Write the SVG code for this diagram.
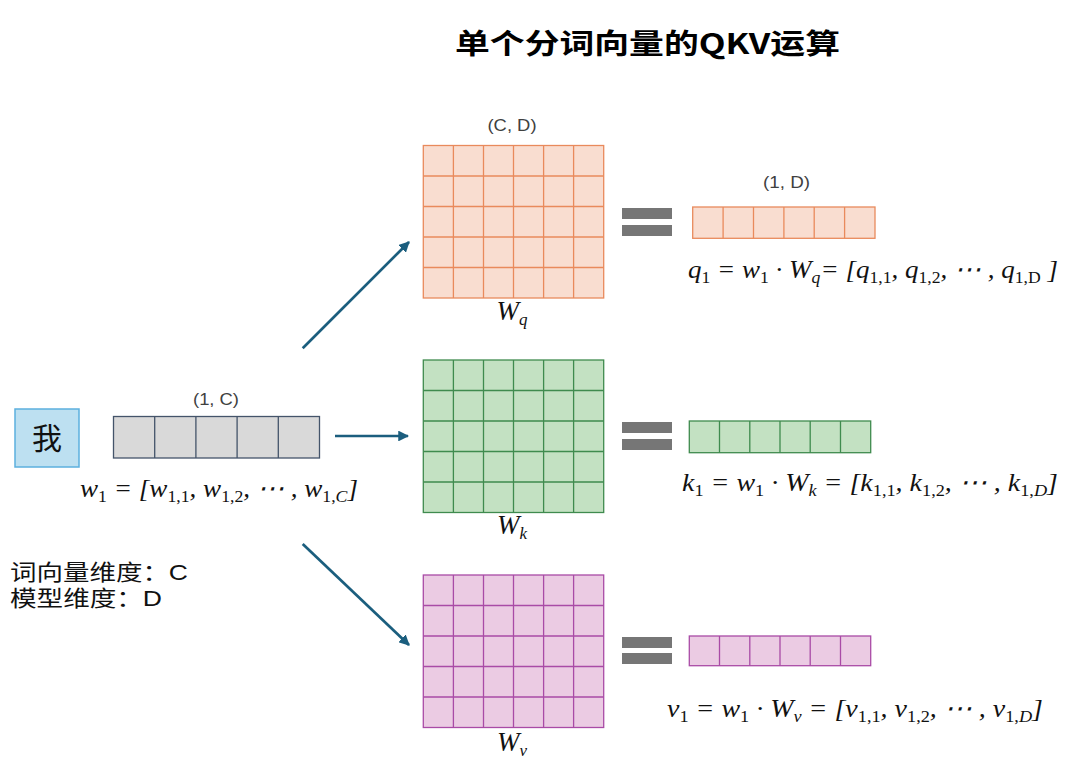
<svg xmlns="http://www.w3.org/2000/svg" width="1080" height="776" viewBox="0 0 1080 776">
<defs>
<style>
.title{font-family:"Noto Sans CJK SC","Noto Sans",sans-serif;font-weight:bold;font-size:28px;fill:#000}
.cjk{font-family:"Liberation Sans","Noto Sans CJK SC",sans-serif;font-size:22px;fill:#111}
.dim{font-family:"Liberation Sans","Noto Sans",sans-serif;font-size:16px;fill:#404040;text-anchor:middle}
.eq{font-family:"Liberation Serif","DejaVu Serif",serif;font-style:italic;font-size:26px;fill:#111}
.sub{font-size:17px;font-style:normal}
.subi{font-size:17px;font-style:italic}
.wl{font-family:"Liberation Serif","DejaVu Serif",serif;font-style:italic;font-size:27px;fill:#111;text-anchor:middle}
.q rect,.q path{fill:#F9DDD0;stroke:#E98A5C;stroke-width:1.3}
.k rect,.k path{fill:#C3E1C2;stroke:#3F8B4E;stroke-width:1.3}
.v rect,.v path{fill:#EBCBE3;stroke:#A94BA6;stroke-width:1.3}
.g rect,.g path{fill:#D9D9D9;stroke:#44546A;stroke-width:1.3}
.q path,.k path,.v path,.g path{fill:none}
.eqbar{fill:#767676}
.conn line{stroke:#1B5E7E;stroke-width:2.7;fill:none}
</style>
<marker id="ah" viewBox="0 0 10 10" refX="9" refY="5" markerWidth="4" markerHeight="4" orient="auto" markerUnits="strokeWidth">
<path d="M0,0 L10,5 L0,10 z" fill="#1B5E7E"/>
</marker>
</defs>
<rect width="1080" height="776" fill="#fff"/>

<text class="title" x="455" y="54" textLength="385" lengthAdjust="spacingAndGlyphs">单个分词向量的QKV运算</text>

<g id="word">
<rect x="15" y="409" width="64" height="58" fill="#BDE0F1" stroke="#5CB0DE" stroke-width="1.5"/>
<text x="47" y="449" font-family="Noto Sans CJK SC,sans-serif" font-size="30" text-anchor="middle" fill="#111">我</text>
</g>

<g id="input-vector" class="g">
<text class="dim" x="216" y="405" textLength="46" lengthAdjust="spacingAndGlyphs">(1, C)</text>
<rect x="113.5" y="416.5" width="206" height="41.5"/>
<path d="M154.7,416.5V458M195.9,416.5V458M237.1,416.5V458M278.3,416.5V458"/>
<text class="eq" x="80" y="497" textLength="278" lengthAdjust="spacingAndGlyphs">w<tspan class="sub" dy="5">1</tspan><tspan dy="-5"> = [w</tspan><tspan class="sub" dy="5">1,1</tspan><tspan dy="-5">, w</tspan><tspan class="sub" dy="5">1,2</tspan><tspan dy="-5">, ⋯ , w</tspan><tspan class="sub" dy="5">1,</tspan><tspan class="subi">C</tspan><tspan dy="-5">]</tspan></text>
</g>

<g id="legend">
<text class="cjk" x="10" y="580" textLength="178" lengthAdjust="spacingAndGlyphs">词向量维度：C</text>
<text class="cjk" x="10" y="606" textLength="152" lengthAdjust="spacingAndGlyphs">模型维度：D</text>
</g>

<g id="Wq" class="q">
<text class="dim" x="512" y="131" textLength="49" lengthAdjust="spacingAndGlyphs">(C, D)</text>
<rect x="423.3" y="145.5" width="180.4" height="152.5"/>
<path d="M453.4,145.5V298M483.5,145.5V298M513.5,145.5V298M543.6,145.5V298M573.6,145.5V298M423.3,176H603.7M423.3,206.5H603.7M423.3,237H603.7M423.3,267.5H603.7"/>
<text class="wl" x="512" y="320">W<tspan class="subi" dy="5">q</tspan></text>
</g>

<g id="Wk" class="k">
<rect x="423.3" y="360" width="180.4" height="152.5"/>
<path d="M453.4,360V512.5M483.5,360V512.5M513.5,360V512.5M543.6,360V512.5M573.6,360V512.5M423.3,390.5H603.7M423.3,421H603.7M423.3,451.5H603.7M423.3,482H603.7"/>
<text class="wl" x="512" y="534">W<tspan class="subi" dy="5">k</tspan></text>
</g>

<g id="Wv" class="v">
<rect x="423.3" y="575" width="180.4" height="152.5"/>
<path d="M453.4,575V727.5M483.5,575V727.5M513.5,575V727.5M543.6,575V727.5M573.6,575V727.5M423.3,605.5H603.7M423.3,636H603.7M423.3,666.5H603.7M423.3,697H603.7"/>
<text class="wl" x="512" y="751">W<tspan class="subi" dy="5">v</tspan></text>
</g>

<g id="eq-q">
<rect class="eqbar" x="622" y="208" width="50" height="11"/>
<rect class="eqbar" x="622" y="225" width="50" height="11"/>
</g>
<g id="eq-k">
<rect class="eqbar" x="622" y="422" width="50" height="11"/>
<rect class="eqbar" x="622" y="439" width="50" height="11"/>
</g>
<g id="eq-v">
<rect class="eqbar" x="622" y="637" width="50" height="11"/>
<rect class="eqbar" x="622" y="653" width="50" height="11"/>
</g>

<g id="q1" class="q">
<text class="dim" x="786.5" y="188" textLength="47" lengthAdjust="spacingAndGlyphs">(1, D)</text>
<rect x="692.7" y="207" width="182.3" height="31.3"/>
<path d="M723.1,207V238.3M753.5,207V238.3M783.9,207V238.3M814.2,207V238.3M844.6,207V238.3"/>
<text class="eq" x="688" y="278" textLength="370" lengthAdjust="spacingAndGlyphs">q<tspan class="sub" dy="5">1</tspan><tspan dy="-5"> = w</tspan><tspan class="sub" dy="5">1</tspan><tspan dy="-5"> · W</tspan><tspan class="subi" dy="5">q</tspan><tspan dy="-5">= [q</tspan><tspan class="sub" dy="5">1,1</tspan><tspan dy="-5">, q</tspan><tspan class="sub" dy="5">1,2</tspan><tspan dy="-5">, ⋯ , q</tspan><tspan class="sub" dy="5">1,D</tspan><tspan dy="-5"> ]</tspan></text>
</g>

<g id="k1" class="k">
<rect x="689.3" y="421" width="181.4" height="31.7"/>
<path d="M719.5,421V452.7M749.8,421V452.7M780,421V452.7M810.2,421V452.7M840.5,421V452.7"/>
<text class="eq" x="682" y="491" textLength="376" lengthAdjust="spacingAndGlyphs">k<tspan class="sub" dy="5">1</tspan><tspan dy="-5"> = w</tspan><tspan class="sub" dy="5">1</tspan><tspan dy="-5"> · W</tspan><tspan class="subi" dy="5">k</tspan><tspan dy="-5"> = [k</tspan><tspan class="sub" dy="5">1,1</tspan><tspan dy="-5">, k</tspan><tspan class="sub" dy="5">1,2</tspan><tspan dy="-5">, ⋯ , k</tspan><tspan class="sub" dy="5">1,</tspan><tspan class="subi">D</tspan><tspan dy="-5">]</tspan></text>
</g>

<g id="v1" class="v">
<rect x="689.3" y="636" width="181.4" height="29.7"/>
<path d="M719.5,636V665.7M749.8,636V665.7M780,636V665.7M810.2,636V665.7M840.5,636V665.7"/>
<text class="eq" x="667" y="717" textLength="376" lengthAdjust="spacingAndGlyphs">v<tspan class="sub" dy="5">1</tspan><tspan dy="-5"> = w</tspan><tspan class="sub" dy="5">1</tspan><tspan dy="-5"> · W</tspan><tspan class="subi" dy="5">v</tspan><tspan dy="-5"> = [v</tspan><tspan class="sub" dy="5">1,1</tspan><tspan dy="-5">, v</tspan><tspan class="sub" dy="5">1,2</tspan><tspan dy="-5">, ⋯ , v</tspan><tspan class="sub" dy="5">1,</tspan><tspan class="subi">D</tspan><tspan dy="-5">]</tspan></text>
</g>

<g id="connectors" class="conn">
<line x1="302.7" y1="348.3" x2="409" y2="242" marker-end="url(#ah)"/>
<line x1="335" y1="436" x2="408" y2="436" marker-end="url(#ah)"/>
<line x1="302.7" y1="544" x2="409" y2="645" marker-end="url(#ah)"/>
</g>
</svg>
